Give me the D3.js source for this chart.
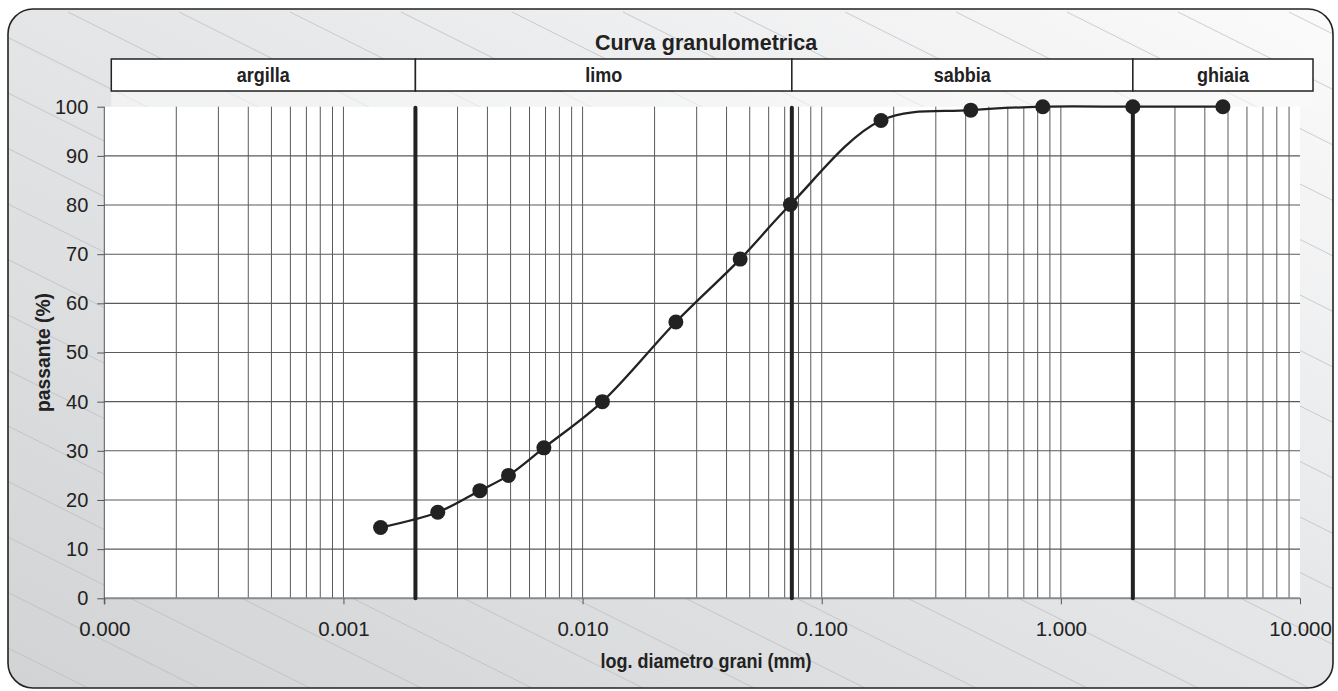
<!DOCTYPE html>
<html><head><meta charset="utf-8">
<script src="https://cdn.jsdelivr.net/npm/d3@7"></script>
<style>html,body{margin:0;padding:0;background:#fff;}svg{display:block;}text{font-family:"Liberation Sans",Arial,sans-serif;fill:#222;}</style>
</head><body>
<svg id="chart" width="1338" height="691"></svg>
<script>
// ---- data ----
const diameters = [0.00143, 0.00248, 0.00372, 0.0049, 0.00689, 0.0121, 0.02455, 0.0456, 0.074, 0.177, 0.42, 0.84, 2.0, 4.76];
const passing   = [14.4, 17.5, 21.9, 25.0, 30.6, 40.0, 56.2, 69.0, 80.1, 97.2, 99.3, 100, 100, 100];
const xTickValues = [0.0001, 0.001, 0.01, 0.1, 1, 10];
const yTickValues = [0, 10, 20, 30, 40, 50, 60, 70, 80, 90, 100];
const bandNames = ["argilla", "limo", "sabbia", "ghiaia"];
const bandLimits = [0.002, 0.075, 2.0];
const xDomain = [0.0001, 10];
const yDomain = [0, 100];
const titleText = "Curva granulometrica";
const xTitle = "log. diametro grani (mm)";
const yTitle = "passante (%)";

// ---- layout ----
const W = 1338, H = 691;
const L = 104.3, R = 1300, T = 106.7, B = 598.3;
const svg = d3.select("#chart");
const x = d3.scaleLog().domain(xDomain).range([L, R]);
const y = d3.scaleLinear().domain(yDomain).range([B, T]);

const defs = svg.append("defs");
const grad = defs.append("linearGradient").attr("id", "bg")
  .attr("x1", 0).attr("y1", 1).attr("x2", 1).attr("y2", 0);
grad.append("stop").attr("offset", "0%").attr("stop-color", "#d2d3d5");
grad.append("stop").attr("offset", "55%").attr("stop-color", "#e6e7e8");
grad.append("stop").attr("offset", "100%").attr("stop-color", "#fbfbfc");
defs.append("clipPath").attr("id", "panelClip").append("rect")
  .attr("x", 8).attr("y", 9).attr("width", 1325).attr("height", 679).attr("rx", 25);

// panel background
svg.append("rect").attr("x", 8).attr("y", 9).attr("width", 1325).attr("height", 679).attr("rx", 25)
  .attr("fill", "url(#bg)");
// diagonal hatch lines
const hatch = svg.append("g").attr("clip-path", "url(#panelClip)");
for (let s = -1400; s < 1400; s += 111) {
  hatch.append("line").attr("x1", s + 25).attr("y1", 12).attr("x2", s + 25 + 1400).attr("y2", 12 + 700)
    .attr("stroke", "#b9babc").attr("stroke-width", 0.7);
}
svg.append("rect").attr("x", 8).attr("y", 9).attr("width", 1325).attr("height", 679).attr("rx", 25)
  .attr("fill", "none").attr("stroke", "#222").attr("stroke-width", 1.6);

// header strip + plot area
svg.append("rect").attr("x", x(xDomain[0]) + 7).attr("y", 92).attr("width", x(xDomain[1]) + 13 - x(xDomain[0]) - 7).attr("height", T - 92)
  .attr("fill", "#fafafa").attr("opacity", 0.6);
svg.append("rect").attr("x", L).attr("y", T).attr("width", R - L).attr("height", B - T).attr("fill", "#fff");

// title
svg.append("text").attr("x", 706).attr("y", 50).attr("text-anchor", "middle")
  .attr("font-size", 21.5).attr("font-weight", "bold").text(titleText);

// bands
const bandEdges = [x(xDomain[0]) + 7, ...bandLimits.map(d => x(d)), x(xDomain[1]) + 13];
const bandTop = 59, bandBot = 91;
const bandG = svg.append("g");
bandNames.forEach((n, i) => {
  bandG.append("rect").attr("x", bandEdges[i]).attr("y", bandTop)
    .attr("width", bandEdges[i + 1] - bandEdges[i]).attr("height", bandBot - bandTop)
    .attr("fill", "#fff").attr("stroke", "#222").attr("stroke-width", 1.5);
  const cx = (bandEdges[i] + bandEdges[i + 1]) / 2;
  bandG.append("text").attr("transform", `translate(${cx},82) scale(0.9,1)`)
    .attr("text-anchor", "middle").attr("font-size", 20).attr("font-weight", "bold").text(n);
});

// minor vertical grid lines
const minor = [];
for (let e = -4; e < 1; e++) for (let m = 1; m <= 9; m++) {
  const v = m * Math.pow(10, e);
  if (v > xDomain[0] * 1.0001 && v < xDomain[1] * 0.9999) minor.push(v);
}
svg.append("g").selectAll("line").data(minor).join("line")
  .attr("x1", d => x(d)).attr("x2", d => x(d)).attr("y1", T).attr("y2", B)
  .attr("stroke", "#5a5a5a").attr("stroke-width", 1);

// horizontal grid lines
svg.append("g").selectAll("line").data(yTickValues.filter(d => d > 0 && d < 100)).join("line")
  .attr("x1", L).attr("x2", R).attr("y1", d => y(d)).attr("y2", d => y(d))
  .attr("stroke", "#5a5a5a").attr("stroke-width", 1.1);
svg.append("line").attr("x1", L).attr("x2", R).attr("y1", y(0)).attr("y2", y(0))
  .attr("stroke", "#8a8a8a").attr("stroke-width", 2);

// axes
const yAxis = d3.axisLeft(y).tickValues(yTickValues).tickSize(7).tickPadding(9);
const gy = svg.append("g").attr("transform", `translate(${L},0)`).call(yAxis);
gy.select(".domain").attr("stroke", "#555").attr("d", `M0,${T}V${B + 6}`);
gy.selectAll(".tick line").attr("stroke", "#555");
gy.selectAll(".tick text").attr("font-size", 20).attr("font-family", "Liberation Sans, Arial, sans-serif").attr("fill", "#222");

const xAxis = d3.axisBottom(x).tickValues(xTickValues).tickFormat(d3.format(".3f")).tickSize(6).tickPadding(17);
const gx = svg.append("g").attr("transform", `translate(0,${B})`).call(xAxis);
gx.select(".domain").remove();
gx.selectAll(".tick line").attr("stroke", "#555");
gx.selectAll(".tick text").attr("font-size", 20.5).attr("font-family", "Liberation Sans, Arial, sans-serif").attr("fill", "#222");

// thick boundary lines
svg.append("g").selectAll("line").data(bandLimits).join("line")
  .attr("x1", d => x(d)).attr("x2", d => x(d)).attr("y1", T + 1).attr("y2", B)
  .attr("stroke", "#222").attr("stroke-width", 4).attr("stroke-linecap", "round");

// curve
const pts = diameters.map((d, i) => [d, passing[i]]);
const line = d3.line().x(d => x(d[0])).y(d => y(d[1])).curve(d3.curveCatmullRom.alpha(0.5));
svg.append("path").attr("d", line(pts)).attr("fill", "none").attr("stroke", "#222").attr("stroke-width", 2.3);
svg.append("g").selectAll("circle").data(pts).join("circle")
  .attr("cx", d => x(d[0])).attr("cy", d => y(d[1])).attr("r", 7.5).attr("fill", "#222");

// axis titles
svg.append("text").attr("transform", "translate(706,668) scale(0.9,1)").attr("text-anchor", "middle")
  .attr("font-size", 20).attr("font-weight", "bold").text(xTitle);
svg.append("text").attr("transform", `translate(50,${(T + B) / 2}) rotate(-90) scale(0.92,1)`).attr("text-anchor", "middle")
  .attr("font-size", 21).attr("font-weight", "bold").text(yTitle);
</script>
</body></html>
